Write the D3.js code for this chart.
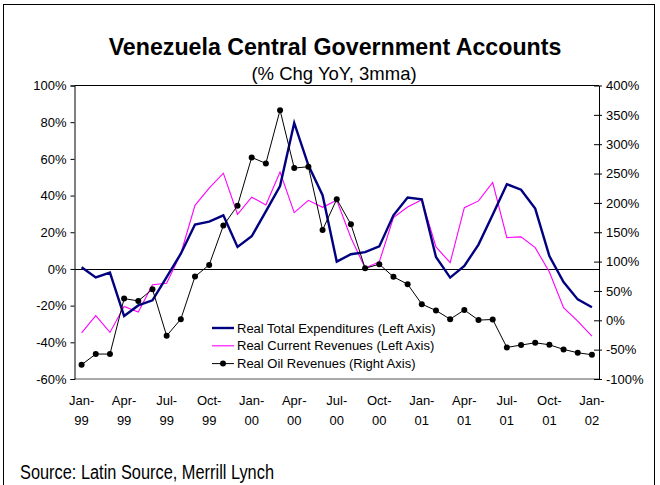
<!DOCTYPE html>
<html>
<head>
<meta charset="utf-8">
<script src="https://cdn.jsdelivr.net/npm/d3@7"></script>
<style>
  html, body { margin: 0; padding: 0; background: #fff; }
  svg { display: block; font-family: "Liberation Sans", Arial, sans-serif; }
</style>
</head>
<body>
<svg id="chart" width="660" height="485"></svg>
<script>
// Monthly categories, Jan-99 .. Jan-02
const months = [
  "Jan-99","Feb-99","Mar-99","Apr-99","May-99","Jun-99","Jul-99","Aug-99","Sep-99","Oct-99","Nov-99","Dec-99",
  "Jan-00","Feb-00","Mar-00","Apr-00","May-00","Jun-00","Jul-00","Aug-00","Sep-00","Oct-00","Nov-00","Dec-00",
  "Jan-01","Feb-01","Mar-01","Apr-01","May-01","Jun-01","Jul-01","Aug-01","Sep-01","Oct-01","Nov-01","Dec-01",
  "Jan-02"
];

// Real Total Expenditures, % chg YoY (left axis)
const expenditures = [
  0.9, -4.6, -2.0, -25.7, -19.9, -17.1, -4.4, 8.3, 24.2, 25.8, 29.2, 12.0,
  17.8, 31.4, 45.2, 79.6, 56.5, 40.2, 4.0, 8.0, 9.2, 12.3, 29.2, 38.9,
  38.0, 6.5, -4.7, 1.6, 13.3, 29.6, 46.2, 43.2, 32.9, 7.0, -7.1, -16.6,
  -20.9
];

// Real Current Revenues, % chg YoY (left axis)
const revenues = [
  -34.8, -25.5, -34.6, -20.5, -23.5, -8.6, -7.8, 8.3, 34.7, 44.0, 52.2, 29.8,
  39.1, 34.9, 52.8, 30.7, 37.4, 33.6, 37.4, 17.0, 0.5, 3.8, 28.0, 33.8,
  37.7, 12.0, 3.4, 33.4, 37.1, 47.1, 17.1, 17.5, 11.6, -1.7, -21.1, -28.4,
  -36.6
];

// Real Oil Revenues, % chg YoY (right axis)
const oilRevenues = [
  -75.7, -57.5, -57.5, 37.0, 33.0, 53.0, -26.4, 2.0, 74.5, 94.4, 161.3, 195.3,
  277.5, 267.3, 358.0, 259.4, 261.6, 153.9, 206.3, 163.5, 88.7, 95.5, 74.0, 61.5,
  27.5, 16.7, 2.0, 17.6, 0.3, 1.4, -46.2, -42.2, -38.3, -41.7, -49.6, -55.3,
  -58.7
];

const leftTicks = [-60, -40, -20, 0, 20, 40, 60, 80, 100];
const rightTicks = [-100, -50, 0, 50, 100, 150, 200, 250, 300, 350, 400];
const xTickLabels = ["Jan-99","Apr-99","Jul-99","Oct-99","Jan-00","Apr-00","Jul-00","Oct-00","Jan-01","Apr-01","Jul-01","Oct-01","Jan-02"];

const seriesNames = [
  "Real Total Expenditures (Left Axis)",
  "Real Current Revenues (Left Axis)",
  "Real Oil Revenues (Right Axis)"
];

const svg = d3.select("#chart");
const plot = { left: 74.5, right: 599, top: 85.5, bottom: 379 };

// outer frame
svg.append("rect")
  .attr("x", 3.5).attr("y", 4.5)
  .attr("width", 651).attr("height", 490)
  .attr("fill", "none").attr("stroke", "#000").attr("stroke-width", 1);

// titles
svg.append("text")
  .attr("x", 335).attr("y", 54.5)
  .attr("text-anchor", "middle")
  .attr("font-size", 23.2).attr("font-weight", "bold")
  .text("Venezuela Central Government Accounts");
svg.append("text")
  .attr("x", 334).attr("y", 79.5)
  .attr("text-anchor", "middle")
  .attr("font-size", 18.5)
  .text("(% Chg YoY, 3mma)");

// scales
const x = d3.scaleBand().domain(months).range([plot.left, plot.right]);
const cx = d => x(d) + x.bandwidth() / 2;
const yL = d3.scaleLinear().domain([-60, 100]).range([plot.bottom, plot.top]);
const yR = d3.scaleLinear().domain([-100, 400]).range([plot.bottom, plot.top]);

// plot frame (top border and bottom edge)
svg.append("line")
  .attr("x1", plot.left).attr("x2", plot.right)
  .attr("y1", plot.top).attr("y2", plot.top)
  .attr("stroke", "#000");
svg.append("line")
  .attr("x1", plot.left).attr("x2", plot.right)
  .attr("y1", plot.bottom).attr("y2", plot.bottom)
  .attr("stroke", "#555");

// zero line for left axis
svg.append("line")
  .attr("x1", plot.left).attr("x2", plot.right)
  .attr("y1", Math.round(yL(0)) + 0.5).attr("y2", Math.round(yL(0)) + 0.5)
  .attr("stroke", "#000");

// left axis
const gL = svg.append("g")
  .attr("transform", `translate(${plot.left},0)`)
  .call(d3.axisLeft(yL).tickValues(leftTicks).tickSize(4).tickPadding(4)
    .tickFormat(d => d + "%"));
gL.select(".domain").attr("stroke", "#000");
gL.selectAll("text").attr("font-size", 13).attr("font-family", "Liberation Sans, Arial, sans-serif").attr("fill", "#000");

// right axis
const gR = svg.append("g")
  .attr("transform", `translate(${plot.right},0)`)
  .call(d3.axisRight(yR).tickValues(rightTicks).tickSize(0).tickPadding(7)
    .tickFormat(d => d + "%"));
gR.select(".domain").attr("stroke", "#000");
gR.selectAll(".tick line").attr("x1", -5).attr("x2", 3).attr("stroke", "#000");
gR.selectAll("text").attr("font-size", 13).attr("font-family", "Liberation Sans, Arial, sans-serif").attr("fill", "#000");

// bottom category labels (two lines)
const gX = svg.append("g")
  .attr("transform", `translate(0,${plot.bottom})`)
  .call(d3.axisBottom(x).tickValues(xTickLabels).tickSize(0).tickPadding(0));
gX.select(".domain").remove();
gX.selectAll(".tick text").each(function(d) {
  const parts = d.split("-");
  const t = d3.select(this).text(null)
    .attr("font-size", 13).attr("font-family", "Liberation Sans, Arial, sans-serif")
    .attr("fill", "#000").attr("dy", null).attr("y", 0);
  t.append("tspan").attr("x", 0).attr("y", 26).text(parts[0] + "-");
  t.append("tspan").attr("x", 0).attr("y", 46).text(parts[1]);
});

// series lines
const lineL = d3.line().x((d, i) => cx(months[i])).y(d => yL(d));
const lineR = d3.line().x((d, i) => cx(months[i])).y(d => yR(d));

svg.append("path").datum(revenues)
  .attr("d", lineL).attr("fill", "none")
  .attr("stroke", "#ff00ff").attr("stroke-width", 1.1).attr("stroke-linejoin", "miter");

svg.append("path").datum(expenditures)
  .attr("d", lineL).attr("fill", "none")
  .attr("stroke", "#000080").attr("stroke-width", 2.4).attr("stroke-linejoin", "miter");

svg.append("path").datum(oilRevenues)
  .attr("d", lineR).attr("fill", "none")
  .attr("stroke", "#000").attr("stroke-width", 1);

svg.append("g").selectAll("circle").data(oilRevenues).join("circle")
  .attr("cx", (d, i) => cx(months[i]))
  .attr("cy", d => yR(d))
  .attr("r", 3).attr("fill", "#000");

// legend
const legend = svg.append("g").attr("transform", "translate(212,328)");
const legendStyles = [
  { color: "#000080", width: 2.4, dot: false },
  { color: "#ff00ff", width: 1.1, dot: false },
  { color: "#000", width: 1, dot: true }
];
seriesNames.forEach((name, i) => {
  const row = legend.append("g").attr("transform", `translate(0,${i * 17.8})`);
  row.append("line").attr("x1", 0).attr("x2", 22).attr("y1", 0).attr("y2", 0)
    .attr("stroke", legendStyles[i].color).attr("stroke-width", legendStyles[i].width);
  if (legendStyles[i].dot) row.append("circle").attr("cx", 11).attr("cy", 0).attr("r", 3).attr("fill", "#000");
  row.append("text").attr("x", 25).attr("y", 4.5)
    .attr("font-size", 13).attr("fill", "#000").text(name);
});

// source note (condensed)
svg.append("text")
  .attr("x", 20).attr("y", 479)
  .attr("font-size", 19.5)
  .attr("textLength", 254).attr("lengthAdjust", "spacingAndGlyphs")
  .text("Source: Latin Source, Merrill Lynch");
</script>
</body>
</html>
